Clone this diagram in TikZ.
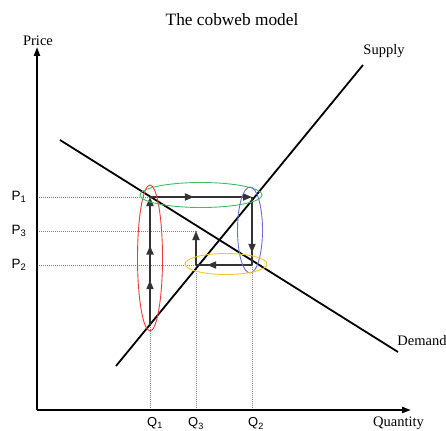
\documentclass[tikz,border=0pt]{standalone}
\usepackage{fontspec}
\setmainfont{Liberation Serif}
\newfontfamily\pqsans{Liberation Sans}
\usetikzlibrary{arrows.meta,decorations.markings,backgrounds}
\definecolor{cwGuide}{HTML}{808080}
\definecolor{cwRed}{HTML}{EE3B3B}
\definecolor{cwGreen}{HTML}{3DBE5C}
\definecolor{cwBlue}{HTML}{6B6BDB}
\definecolor{cwYellow}{HTML}{F6C62C}
\newcommand{\webtip}{\arrow{Triangle[length=9pt,width=7pt]}}

\begin{document}
\begin{tikzpicture}[
  x=1pt, y=-1pt,
  font=\fontsize{14.5}{16}\selectfont,
  axis/.style={line width=2pt, -{Triangle[length=9pt,width=6pt]}},
  curve/.style={line width=1.8pt},
  guide/.style={cwGuide, line width=1pt, dash pattern=on 1pt off 1pt},
  web/.style={line width=1.8pt, draw=black!80},
  webend/.style={-{Triangle[length=9pt,width=7pt]}},
  webmark/.style={postaction={decorate,
      decoration={markings, mark=at position #1 with {\webtip}}}},
  ring/.style={line width=0.9pt},
  plabel/.style={font=\pqsans\fontsize{13.5}{15}\selectfont},
  qlabel/.style={font=\pqsans\fontsize{13}{14}\selectfont, anchor=south, inner sep=0pt},
]
\useasboundingbox (0,0) rectangle (446,430);

% ── Axes and their labels ────────────────────────────────────────────────
\coordinate (O)    at (37,410);
\coordinate (ytop) at (37,47);
\coordinate (xend) at (411,410);
\draw[axis] (O) -- (ytop);
\draw[axis] (O) -- (xend);

\node[font=\fontsize{17.3}{19}\selectfont] (title) at (232,20) {The cobweb model};
\node (price) at (38,41) {Price};
\node[anchor=south west, inner sep=0pt] (qty) at (373,429.5) {Quantity};

% ── Supply and demand ────────────────────────────────────────────────────
\coordinate (slo) at (116,366);
\coordinate (shi) at (363,65);
\coordinate (dhi) at (60,140);
\coordinate (dlo) at (398,352);
\draw[curve] (slo) -- (shi);
\draw[curve] (dhi) -- (dlo);
\node (supply) at (384,51) {Supply};
\node (demand) at (422,341) {Demand};

% ── Points of the web (Q1 / Q2 / Q3 against P1 / P2 / P3) ──────────────────
\coordinate (s1) at (150,325);
\coordinate (e1) at (150,197);
\coordinate (e2) at (252,197);
\coordinate (e3) at (252,265);
\coordinate (e4) at (196,265);
\coordinate (e5) at (196,231);

\node[plabel] (p1) at (19,197) {P\textsubscript{1}};
\node[plabel] (p3) at (19,231) {P\textsubscript{3}};
\node[plabel] (p2) at (19,265) {P\textsubscript{2}};
\node[qlabel] (q1) at (155,429.5) {Q\textsubscript{1}};
\node[qlabel] (q3) at (196,429.5) {Q\textsubscript{3}};
\node[qlabel] (q2) at (256,429.5) {Q\textsubscript{2}};

% ── Dotted guides back to the axes ───────────────────────────────────────
\begin{scope}[on background layer]
  \draw[guide] (O |- e1) -- (e2);
  \draw[guide] (O |- e5) -- (e5);
  \draw[guide] (O |- e3) -- (e3);
  \draw[guide] (O -| e1) -- (e1);
  \draw[guide] (O -| e5) -- (e5);
  \draw[guide] (O -| e3) -- (e2);
\end{scope}

% ── The cobweb itself ────────────────────────────────────────────────────
\draw[web, webend, webmark=0.35, webmark=0.62] (s1) -- (e1);
\draw[web, webend, webmark=0.43] (e1) -- (e2);
\draw[web, webmark=0.82] (e2) -- (e3);
\draw[web, webmark=0.8] (e3) -- (e4);
\draw[web, webend] (e4) -- (e5);

% ── Coloured rings round each step ───────────────────────────────────────
\draw[ring, cwRed]    (150,258) ellipse [x radius=12.5, y radius=73];
\draw[ring, cwGreen]  (201,195) ellipse [x radius=61, y radius=12.5];
\draw[ring, cwBlue]   (250,230) ellipse [x radius=12.5, y radius=43];
\draw[ring, cwYellow] (226,264) ellipse [x radius=41, y radius=10.5];

\end{tikzpicture}
\end{document}
